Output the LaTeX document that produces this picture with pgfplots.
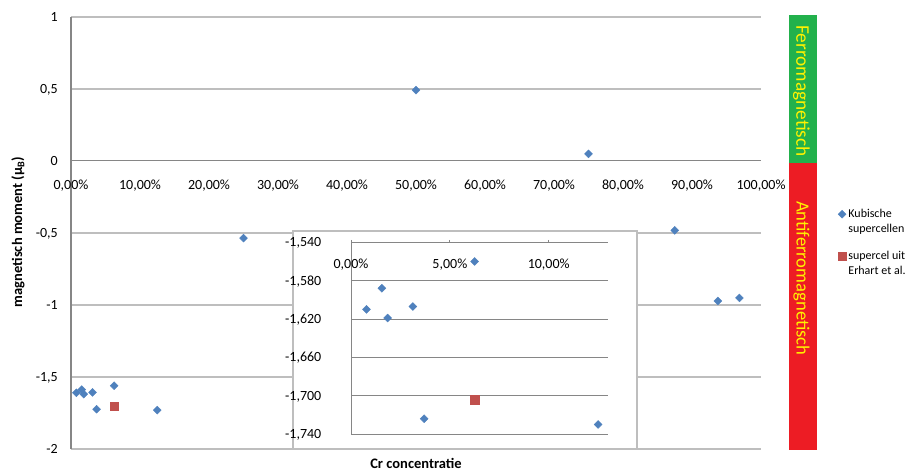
\documentclass[border=0pt]{standalone}
\usepackage{pgfplots}
\pgfplotsset{compat=1.18}
\usepackage{pgfplotstable}
\usepackage{fontspec}
\setmainfont{Carlito}

\definecolor{serieblue}{RGB}{79,129,189}
\definecolor{seriered}{RGB}{192,80,77}
\definecolor{gridgray}{RGB}{190,190,190}
\definecolor{axisgray}{RGB}{134,134,134}
\definecolor{ferrogreen}{RGB}{34,177,76}
\definecolor{antired}{RGB}{237,28,36}
\definecolor{labelyellow}{RGB}{255,242,0}

% Cr concentration (fraction) and magnetic moment per cell (mu_B)
\pgfplotstableread{
x          y
0.0078125  -1.610
0.015625   -1.588
0.0185     -1.619
0.03125    -1.607
0.037      -1.724
0.0625     -1.560
0.125      -1.730
0.25       -0.535
0.5         0.492
0.75        0.049
0.875      -0.482
0.9375     -0.972
0.96875    -0.951
}\kubisch

\pgfplotstableread{
x       y
0.0625  -1.704
}\erhart

\pgfplotsset{
  excelstyle/.style={
    scale only axis,
    anchor=south west,
    font=\fontsize{14}{16}\selectfont,
    axis line style={axisgray, line width=0.8pt},
    yticklabel style={anchor=base east, inner sep=0pt, xshift=-13pt, yshift=-4.4pt},
  },
  kubmark/.style={only marks, mark=square*, mark size=2.8pt,
    mark options={rotate=45, fill=serieblue, draw=serieblue}},
  erhmark/.style={only marks, mark=square*, mark size=4.3pt,
    mark options={fill=seriered, draw=seriered}},
}

\begin{document}
\begin{tikzpicture}[x=1pt,y=1pt]
\useasboundingbox (0,0) rectangle (907,471);

% plot-area frame of the main chart: horizontal gridlines every 0.5 and the left axis
\foreach \yy in {22,94,166,238,382,454}
  \draw[gridgray, line width=1.4pt] (71,\yy) -- (761,\yy);
\draw[axisgray, line width=1.2pt] (71,22) -- (71,454);

% main chart; the x labels sit just below the zero line
\begin{axis}[
  excelstyle,
  at={(71pt,22pt)}, width=690pt, height=432pt,
  xmin=0, xmax=1, ymin=-2, ymax=1,
  axis x line*=bottom, axis y line*=left,
  axis line style={draw=none},
  major tick length=0pt,
  xtick={0,0.1,0.2,0.3,0.4,0.5,0.6,0.7,0.8,0.9,1},
  xticklabels={{0,00\%},{10,00\%},{20,00\%},{30,00\%},{40,00\%},{50,00\%},
               {60,00\%},{70,00\%},{80,00\%},{90,00\%},{100,00\%}},
  xticklabel style={anchor=base, inner sep=0pt, yshift=259pt},
  ytick={-2,-1.5,-1,-0.5,0,0.5,1},
  yticklabels={{-2},{-1,5},{-1},{-0,5},{0},{0,5},{1}},
  legend style={at={(1.111,0.561)}, anchor=north west, draw=none, fill=none,
    font=\fontsize{12}{15}\selectfont, inner sep=0pt,
    cells={anchor=base west}, row sep=28pt, column sep=0pt},
  legend image code/.code={\draw[mark repeat=2,mark phase=2,#1]
    plot coordinates {(0pt,3pt)(4pt,3pt)(8pt,3pt)};},
]
\draw[axisgray, line width=1pt] (axis cs:0,0) -- (axis cs:1,0);
\addplot[kubmark] table[x=x,y=y] {\kubisch};
\addlegendentry{\vtop{\hbox{Kubische}\hbox{supercellen}}}
\addplot[erhmark] table[x=x,y=y] {\erhart};
\addlegendentry{\vtop{\hbox{supercel uit}\hbox{Erhart et al.}}}
\end{axis}

% inset frame
\filldraw[fill=white, draw=gridgray, line width=1.2pt] (293,22) rectangle (637,240);

% inset: low concentrations
\begin{axis}[
  excelstyle,
  at={(351pt,37pt)}, width=257pt, height=191.7pt,
  xmin=0, xmax=0.13, ymin=-1.74, ymax=-1.54,
  axis x line*=top, axis y line*=left,
  ymajorgrids,
  major grid style={axisgray, line width=0.8pt},
  xtick={0,0.05,0.1},
  xticklabels={{0,00\%},{5,00\%},{10,00\%}},
  xticklabel style={anchor=base, inner sep=0pt, yshift=-28.7pt},
  tick align=outside, major tick length=2.5pt,
  xtick style={axisgray, line width=0.8pt},
  ytick style={draw=none},
  ytick={-1.74,-1.70,-1.66,-1.62,-1.58,-1.54},
  yticklabels={{-1,740},{-1,700},{-1,660},{-1,620},{-1,580},{-1,540}},
  yticklabel style={xshift=-14pt},
]
\addplot[kubmark, restrict x to domain=0:0.13] table[x=x,y=y] {\kubisch};
\addplot[erhmark] table[x=x,y=y] {\erhart};
\end{axis}

% axis titles
\node[rotate=90, font=\fontsize{14.5}{16}\selectfont\bfseries] at (18,239)
  {magnetisch moment (μ\textsubscript{B})};
\node[anchor=base, font=\fontsize{14.5}{16}\selectfont\bfseries] at (416,3)
  {Cr concentratie};

% magnetic order bands
\fill[ferrogreen] (788.5,308) rectangle (816.5,456);
\fill[antired] (788.5,21) rectangle (816.5,308);
\node[rotate=-90, text=labelyellow, font=\fontsize{19.3}{21}\selectfont] at (801.5,380)
  {Ferromagnetisch};
\node[rotate=-90, text=labelyellow, font=\fontsize{18.6}{21}\selectfont] at (801.5,192.7)
  {Antiferromagnetisch};
\end{tikzpicture}
\end{document}
